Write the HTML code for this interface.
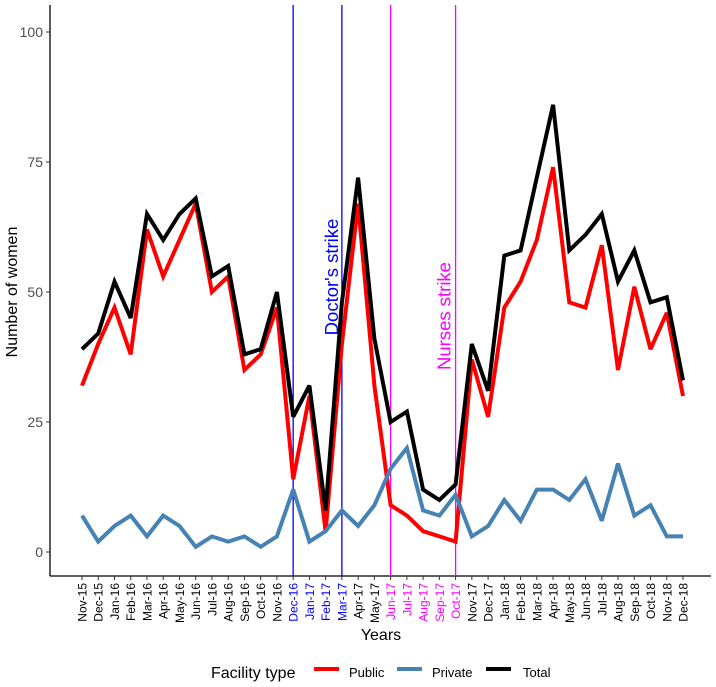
<!DOCTYPE html>
<html><head><meta charset="utf-8"><style>
body{margin:0;background:#fff;font-family:"Liberation Sans",sans-serif}
svg text{font-family:"Liberation Sans",sans-serif}
</style></head><body>
<svg id="chart" width="716" height="682" xmlns="http://www.w3.org/2000/svg">
<g id="plot"></g>
</svg>
<script>
const months=["Nov-15","Dec-15","Jan-16","Feb-16","Mar-16","Apr-16","May-16","Jun-16","Jul-16","Aug-16","Sep-16","Oct-16","Nov-16","Dec-16","Jan-17","Feb-17","Mar-17","Apr-17","May-17","Jun-17","Jul-17","Aug-17","Sep-17","Oct-17","Nov-17","Dec-17","Jan-18","Feb-18","Mar-18","Apr-18","May-18","Jun-18","Jul-18","Aug-18","Sep-18","Oct-18","Nov-18","Dec-18"];
const publicVals=[32,40,47,38,62,53,60,67,50,53,35,38,47,14,30,4,40,67,32,9,7,4,3,2,37,26,47,52,60,74,48,47,59,35,51,39,46,30];
const privateVals=[7,2,5,7,3,7,5,1,3,2,3,1,3,12,2,4,8,5,9,16,20,8,7,11,3,5,10,6,12,12,10,14,6,17,7,9,3,3];
const totalVals=[39,42,52,45,65,60,65,68,53,55,38,39,50,26,32,8,48,72,41,25,27,12,10,13,40,31,57,58,72,86,58,61,65,52,58,48,49,33];
const yTicks=[0,25,50,75,100];
const doctorStrike=["Dec-16","Mar-17"];
const nursesStrike=["Jun-17","Oct-17"];
const NS="http://www.w3.org/2000/svg";
const svg=document.getElementById('chart');
const g=document.getElementById('plot');
const x0=82,x1=683,y0=552,y100=32;
const xs=i=>x0+i*(x1-x0)/(months.length-1);
const ys=v=>y0+(y100-y0)*v/100;
function mk(tag,attrs,parent){const e=document.createElementNS(NS,tag);for(const k in attrs)e.setAttribute(k,attrs[k]);(parent||g).appendChild(e);return e;}
const doctorIdx=doctorStrike.map(m=>months.indexOf(m));
const nurseIdx=nursesStrike.map(m=>months.indexOf(m));
let ax=mk('line',{x1:50,y1:5,x2:50,y2:576,stroke:'#000','stroke-width':1.3});


ax=mk('line',{x1:50,y1:576,x2:711,y2:576,stroke:'#000','stroke-width':1.3});


yTicks.forEach(v=>{
 const t=mk('line',{x1:46,x2:50,y1:ys(v),y2:ys(v),stroke:'#333','stroke-width':1});
 
 
 const l=mk('text',{x:43,y:ys(v)+5,'text-anchor':'end','font-size':14,fill:'#4d4d4d'});
 l.textContent=v;
 
 
});
months.forEach((m,i)=>{
 const t=mk('line',{x1:xs(i),x2:xs(i),y1:576,y2:580,stroke:'#333','stroke-width':1});
 
 
 let c='#000';
 if(i>=doctorIdx[0]&&i<=doctorIdx[1])c='#0000ff';
 if(i>=nurseIdx[0]&&i<=nurseIdx[1])c='#ff00ff';
 const l=mk('text',{x:0,y:0,'text-anchor':'end','font-size':12,fill:c,transform:`translate(${xs(i)+4.5},583) rotate(-90)`});
 l.textContent=m;
 
 
});
doctorIdx.forEach(i=>{const e=mk('line',{x1:xs(i),x2:xs(i),y1:5,y2:576,stroke:'#0000ff','stroke-width':1.3});
 
 });
nurseIdx.forEach(i=>{const e=mk('line',{x1:xs(i),x2:xs(i),y1:5,y2:576,stroke:'#ff00ff','stroke-width':1.3});
 
 });
function series(vals,color,name){
 const d=vals.map((v,i)=>(i?'L':'M')+xs(i).toFixed(1)+','+ys(v).toFixed(1)).join('');
 const p=mk('path',{d:d,fill:'none',stroke:color,'stroke-width':4,'stroke-linejoin':'miter','stroke-miterlimit':3});
 
 
}
series(publicVals,'#ff0000','public-line');
series(privateVals,'#4682b4','private-line');
series(totalVals,'#000000','total-line');
let s=mk('text',{x:0,y:0,'text-anchor':'middle','font-size':18.5,fill:'#0000ff',transform:`translate(${xs(doctorIdx[1])-4},277) rotate(-90)`});
s.textContent="Doctor's strike";


s=mk('text',{x:0,y:0,'text-anchor':'middle','font-size':18.5,fill:'#ff00ff',transform:`translate(${xs(nurseIdx[1])-5},316) rotate(-90)`});
s.textContent="Nurses strike";


s=mk('text',{x:381,y:640,'text-anchor':'middle','font-size':16,fill:'#000'});
s.textContent='Years';


s=mk('text',{x:0,y:0,'text-anchor':'middle','font-size':16,fill:'#000',transform:'translate(17,292) rotate(-90)'});
s.textContent='Number of women';


s=mk('text',{x:211,y:678,'font-size':16,fill:'#000'});
s.textContent='Facility type';


[['Public','#ff0000',314,349],['Private','#4682b4',397,432],['Total','#000',486,523]].forEach(e=>{
 const l=mk('line',{x1:e[2],x2:e[2]+25,y1:669,y2:669,stroke:e[1],'stroke-width':4});
 
 
 const t=mk('text',{x:e[3],y:677,'font-size':13,fill:'#000'});
 t.textContent=e[0];
 
 
});
</script>
</body></html>
